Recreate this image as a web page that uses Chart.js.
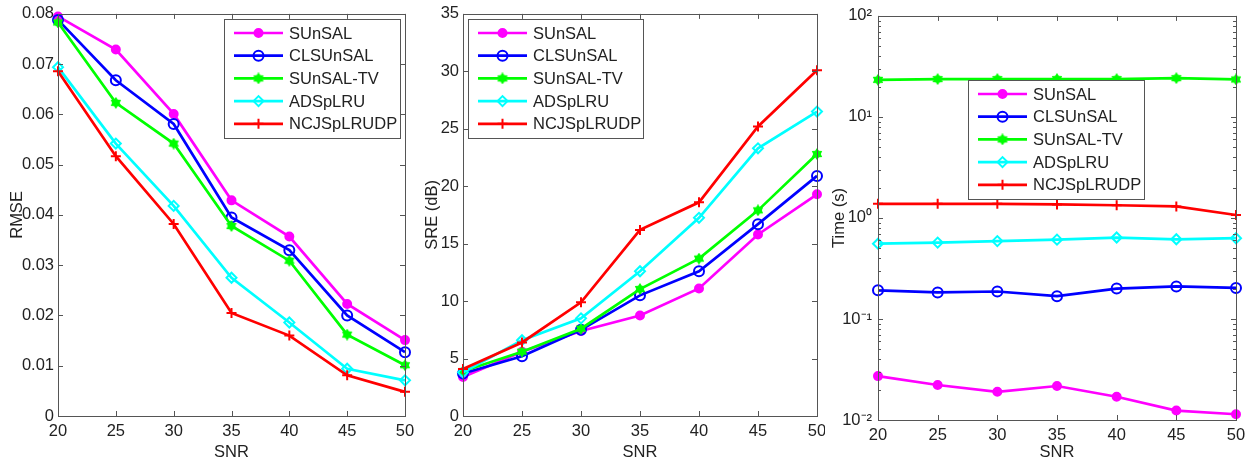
<!DOCTYPE html>
<html>
<head>
<meta charset="utf-8">
<script src="https://cdn.jsdelivr.net/npm/chart.js@4.4.1/dist/chart.umd.min.js"></script>
<style>
body { margin:0; background:#fff; width:1250px; height:464px; position:relative; overflow:hidden; }
canvas { position:absolute; top:0; }
</style>
</head>
<body>
<canvas id="c1" width="414" height="464" style="left:0"></canvas>
<canvas id="c2" width="410" height="464" style="left:415px"></canvas>
<canvas id="c3" width="422" height="464" style="left:828px"></canvas>
<script>
var snr = [20, 25, 30, 35, 40, 45, 50];
var names = ['SUnSAL', 'CLSUnSAL', 'SUnSAL-TV', 'ADSpLRU', 'NCJSpLRUDP'];
var colors = ['#ff00ff', '#0000ff', '#00ff00', '#00ffff', '#ff0000'];

// RMSE
var rmseSUnSAL = [0.0795, 0.0729, 0.0601, 0.0429, 0.0357, 0.0223, 0.0151];
var rmseCLSUnSAL = [0.0788, 0.0668, 0.0581, 0.0395, 0.0330, 0.0200, 0.0127];
var rmseSUnSALTV = [0.0783, 0.0623, 0.0542, 0.0378, 0.0309, 0.0162, 0.0101];
var rmseADSpLRU = [0.0694, 0.0542, 0.0418, 0.0275, 0.0186, 0.0094, 0.0071];
var rmseNCJ = [0.0686, 0.0517, 0.0382, 0.0205, 0.0160, 0.0081, 0.0048];

// SRE (dB)
var sreSUnSAL = [3.4, 5.6, 7.4, 8.75, 11.1, 15.8, 19.3];
var sreCLSUnSAL = [3.7, 5.2, 7.5, 10.5, 12.6, 16.7, 20.9];
var sreSUnSALTV = [3.9, 5.6, 7.6, 11.05, 13.7, 17.9, 22.8];
var sreADSpLRU = [3.8, 6.6, 8.5, 12.6, 17.25, 23.3, 26.5];
var sreNCJ = [4.1, 6.4, 9.9, 16.2, 18.6, 25.2, 30.1];

// Time (s)
var timeSUnSAL = [0.0272, 0.0222, 0.0190, 0.0217, 0.0170, 0.0124, 0.0114];
var timeCLSUnSAL = [0.192, 0.183, 0.187, 0.168, 0.200, 0.210, 0.203];
var timeSUnSALTV = [23.3, 23.7, 23.7, 23.7, 23.7, 24.2, 23.5];
var timeADSpLRU = [0.556, 0.57, 0.59, 0.61, 0.64, 0.615, 0.63];
var timeNCJ = [1.38, 1.38, 1.38, 1.36, 1.335, 1.30, 1.07];

var logTicks = [0.01, 0.1, 1, 10, 100];
var logLabels = ['10\u207B\u00B2', '10\u207B\u00B9', '10\u2070', '10\u00B9', '10\u00B2'];

var FONT = 'Liberation Sans, Arial, sans-serif';
var FS = 16.5;
var TXT = '#222';
var AX = '#555';

// filled hexagram marker like matlab 'h'
function hexagram(color) {
    var c = document.createElement('canvas');
    c.width = 12; c.height = 12;
    var g = c.getContext('2d');
    g.fillStyle = color;
    g.beginPath();
    for (var i = 0; i < 12; i++) {
        var r = i % 2 ? 3.8 : 6;
        var a = -Math.PI / 2 + i * Math.PI / 6;
        var px = 6 + r * Math.cos(a), py = 6 + r * Math.sin(a);
        if (i == 0) g.moveTo(px, py); else g.lineTo(px, py);
    }
    g.closePath();
    g.fill();
    return c;
}

var markers = [
    {pointStyle: 'circle', radius: 4, fill: true},
    {pointStyle: 'circle', radius: 5, fill: false},
    {pointStyle: hexagram('#00ff00'), radius: 6, fill: true},
    {pointStyle: 'rectRot', radius: 5, fill: false},
    {pointStyle: 'cross', radius: 5, fill: false}
];

function makeSets(series) {
    return series.map(function(vals, i) {
        var m = markers[i];
        return {
            label: names[i],
            data: vals.map(function(v, j) { return {x: snr[j], y: v}; }),
            borderColor: colors[i],
            backgroundColor: m.fill ? colors[i] : 'rgba(0,0,0,0)',
            borderWidth: 2.7,
            pointStyle: m.pointStyle,
            pointRadius: m.radius,
            pointBorderWidth: 2,
            pointBorderColor: colors[i],
            pointBackgroundColor: m.fill ? colors[i] : 'rgba(0,0,0,0)',
            tension: 0,
            clip: false,
            order: 5 - i
        };
    });
}

// axes box with inward ticks, matlab style
var frame = {
    id: 'frame',
    afterDatasetsDraw: function(chart) {
        var a = chart.chartArea, ctx = chart.ctx;
        var xs = chart.scales.x, ys = chart.scales.y;
        ctx.save();
        ctx.strokeStyle = AX;
        ctx.lineWidth = 1;
        ctx.strokeRect(Math.round(a.left) + 0.5, Math.round(a.top) + 0.5, Math.round(a.right - a.left), Math.round(a.bottom - a.top));
        ctx.beginPath();
        xs.ticks.forEach(function(t) {
            var px = Math.round(xs.getPixelForValue(t.value)) + 0.5;
            ctx.moveTo(px, a.bottom); ctx.lineTo(px, a.bottom - 5);
            ctx.moveTo(px, a.top); ctx.lineTo(px, a.top + 5);
        });
        ys.ticks.forEach(function(t) {
            var py = Math.round(ys.getPixelForValue(t.value)) + 0.5;
            ctx.moveTo(a.left, py); ctx.lineTo(a.left + 5, py);
            ctx.moveTo(a.right, py); ctx.lineTo(a.right - 5, py);
        });
        if (ys.type == 'logarithmic') {
            for (var d = 0; d < logTicks.length - 1; d++) {
                for (var k = 2; k < 10; k++) {
                    var py = Math.round(ys.getPixelForValue(logTicks[d] * k)) + 0.5;
                    ctx.moveTo(a.left, py); ctx.lineTo(a.left + 3, py);
                    ctx.moveTo(a.right, py); ctx.lineTo(a.right - 3, py);
                }
            }
        }
        ctx.stroke();
        ctx.restore();
    },
    afterDraw: function(chart) {
        var box = chart.options.plugins.frame.legend;
        var ctx = chart.ctx;
        ctx.save();
        ctx.fillStyle = '#fff';
        ctx.fillRect(box.x, box.y, box.w, box.h);
        ctx.strokeStyle = AX;
        ctx.lineWidth = 1;
        ctx.strokeRect(box.x + 0.5, box.y + 0.5, box.w, box.h);
        ctx.font = FS + 'px ' + FONT;
        ctx.textBaseline = 'middle';
        chart.data.datasets.forEach(function(ds, i) {
            var y = box.y + 14 + i * 22.7;
            ctx.strokeStyle = ds.borderColor;
            ctx.lineWidth = 2.7;
            ctx.beginPath();
            ctx.moveTo(box.x + 10, y); ctx.lineTo(box.x + 59, y);
            ctx.stroke();
            ctx.fillStyle = ds.pointBackgroundColor;
            ctx.strokeStyle = ds.pointBorderColor;
            ctx.lineWidth = 2;
            Chart.helpers.drawPoint(ctx, {pointStyle: ds.pointStyle, radius: ds.pointRadius, borderWidth: 2, rotation: 0}, box.x + 34.5, y);
            ctx.fillStyle = TXT;
            ctx.fillText(ds.label, box.x + 65, y + 1);
        });
        ctx.restore();
    }
};

function makeChart(id, series, yopt, lay) {
    var yscale = Object.assign({
        position: 'left',
        grid: {display: false, drawTicks: false},
        border: {display: false},
        title: {display: true, text: yopt.title, font: {size: FS, family: FONT}, color: TXT, padding: {top: lay.titlePad, bottom: 0}},
        afterFit: function(s) { s.width = lay.yw; }
    }, yopt.scale);
    return new Chart(document.getElementById(id), {
        type: 'line',
        data: {datasets: makeSets(series)},
        plugins: [frame],
        options: {
            responsive: false,
            animation: false,
            events: [],
            layout: {padding: {top: lay.top, right: lay.right, left: 0, bottom: 0}},
            plugins: {legend: {display: false}, tooltip: {enabled: false}, frame: {legend: lay.legend}},
            scales: {
                x: {
                    type: 'linear', min: 20, max: 50,
                    grid: {display: false, drawTicks: false},
                    border: {display: false},
                    ticks: {stepSize: 5, font: {size: FS, family: FONT}, color: TXT, padding: 6},
                    title: {display: true, text: 'SNR', font: {size: FS, family: FONT}, color: TXT, padding: {top: 0, bottom: 2}},
                    afterFit: function(s) { s.height = lay.xh; s.paddingLeft = 0; s.paddingRight = 0; }
                },
                y: yscale
            }
        }
    });
}

makeChart('c1', [rmseSUnSAL, rmseCLSUnSAL, rmseSUnSALTV, rmseADSpLRU, rmseNCJ], {
    title: 'RMSE',
    scale: {type: 'linear', min: 0, max: 0.08, ticks: {stepSize: 0.01, font: {size: FS, family: FONT}, color: TXT, padding: 4,
        callback: function(v) { return v == 0 ? '0' : String(+v.toFixed(2)); }}}
}, {yw: 58, xh: 48, top: 12, right: 9, titlePad: 8, legend: {x: 224, y: 19, w: 176, h: 119}});

makeChart('c2', [sreSUnSAL, sreCLSUnSAL, sreSUnSALTV, sreADSpLRU, sreNCJ], {
    title: 'SRE (dB)',
    scale: {type: 'linear', min: 0, max: 35, ticks: {stepSize: 5, font: {size: FS, family: FONT}, color: TXT, padding: 4}}
}, {yw: 48, xh: 48, top: 12, right: 8, titlePad: 8, legend: {x: 53, y: 19, w: 175, h: 119}});

makeChart('c3', [timeSUnSAL, timeCLSUnSAL, timeSUnSALTV, timeADSpLRU, timeNCJ], {
    title: 'Time (s)',
    scale: {type: 'logarithmic', min: 0.01, max: 100,
        ticks: {font: {size: FS, family: FONT}, color: TXT, padding: 6,
            callback: function(v) { var i = logTicks.indexOf(v); return i < 0 ? '' : logLabels[i]; }},
        afterBuildTicks: function(s) { s.ticks = logTicks.map(function(v) { return {value: v}; }); }}
}, {yw: 50, xh: 44, top: 15, right: 14, titlePad: 2, legend: {x: 140, y: 80, w: 176, h: 119}});
</script>
</body>
</html>
